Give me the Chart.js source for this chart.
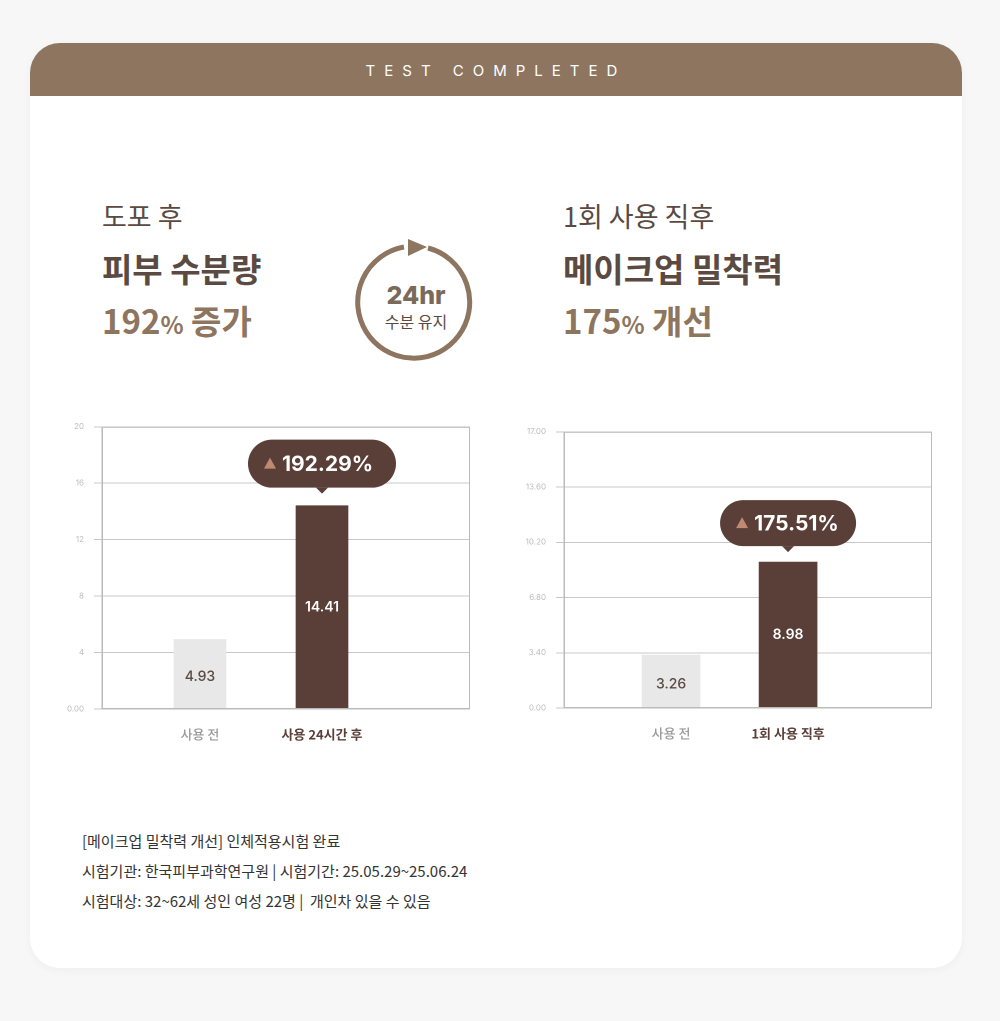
<!DOCTYPE html>
<html><head><meta charset="utf-8">
<script src="https://cdn.jsdelivr.net/npm/chart.js@4"></script>
<style>
body{margin:0;background:#f7f7f7;font-family:Inter,"Noto Sans CJK KR",sans-serif;}
#card{position:absolute;left:30px;top:43px;width:932px;height:925px;background:#fff;border-radius:30px;overflow:hidden;box-shadow:0 2px 10px rgba(0,0,0,0.04);}
#hdr{height:53px;background:#8d7560;color:#fff;text-align:center;line-height:56px;font-size:15px;letter-spacing:9px;}
.t{position:absolute;font-family:"Noto Sans CJK KR";color:#5a4a42;white-space:nowrap;}
canvas{position:absolute;}
</style></head><body>
<div id="card"><div id="hdr">TEST COMPLETED</div></div>
<div class="t" style="left:102px;top:196px;font-size:27px;">도포 후</div>
<div class="t" style="left:102px;top:244px;font-size:33px;font-weight:700;">피부 수분량</div>
<div class="t" style="left:102px;top:296px;font-size:33px;font-weight:700;color:#8d7560;">192<span style="font-size:24px">%</span> 증가</div>
<div class="t" style="left:563px;top:196px;font-size:27px;">1회 사용 직후</div>
<div class="t" style="left:563px;top:244px;font-size:33px;font-weight:700;">메이크업 밀착력</div>
<div class="t" style="left:563px;top:296px;font-size:33px;font-weight:700;color:#8d7560;">175<span style="font-size:24px">%</span> 개선</div>
<svg style="position:absolute;left:350px;top:236px" width="132" height="132" viewBox="0 0 132 132">
<path d="M 78 12 A 56 56 0 1 1 54 11" fill="none" stroke="#8d7560" stroke-width="5"/>
<polygon points="58,3 77,11 58,20" fill="#8d7560"/>
<text x="66" y="68" text-anchor="middle" font-family="Inter" font-weight="800" font-size="25" fill="#7a6a5a">24hr</text>
<text x="66" y="92" text-anchor="middle" font-family="Noto Sans CJK KR" font-size="16" fill="#5a4a42">수분 유지</text>
</svg>
<canvas id="c1" style="left:60px;top:412px;width:410px;height:333px"></canvas>
<canvas id="c2" style="left:522px;top:417px;width:410px;height:327px"></canvas>
<div class="t" style="left:82px;top:826px;font-size:15px;color:#333;line-height:30px;">[메이크업 밀착력 개선] 인체적용시험 완료<br>시험기관: 한국피부과학연구원 | 시험기간: 25.05.29~25.06.24<br>시험대상: 32~62세 성인 여성 22명 |&nbsp; 개인차 있을 수 있음</div>
<script>
const cats1=['사용 전','사용 24시간 후'];
const vals1=[4.93,14.41];
const ticks1=[0,4,8,12,16,20];
const tickLabels1=['0.00','4','8','12','16','20'];
const badge1='192.29%';
const cats2=['사용 전','1회 사용 직후'];
const vals2=[3.26,8.98];
const ticks2=[0,3.4,6.8,10.2,13.6,17];
const tickLabels2=['0.00','3.40','6.80','10.20','13.60','17.00'];
const badge2='175.51%';

function rr(ctx,x,y,w,h,r){ctx.beginPath();ctx.moveTo(x+r,y);ctx.arcTo(x+w,y,x+w,y+h,r);ctx.arcTo(x+w,y+h,x,y+h,r);ctx.arcTo(x,y+h,x,y,r);ctx.arcTo(x,y,x+w,y,r);ctx.closePath();}
function make(id,cats,vals,ticks,tl,badge,xmin,xmax,th,bw,bh,gap){
 const deco={id:'deco',afterDatasetsDraw(ch){
  const ctx=ch.ctx,m=ch.getDatasetMeta(0),a=ch.chartArea;
  ctx.save();ctx.strokeStyle='#bbb';ctx.lineWidth=1;ctx.strokeRect(a.left+0.5,a.top+0.5,a.right-a.left-1,a.bottom-a.top-1);ctx.restore();
  m.data.forEach((b,i)=>{
   ctx.save();ctx.textAlign='center';ctx.textBaseline='middle';
   ctx.font=(i?'600 ':'500 ')+'14px Inter';ctx.fillStyle=i?'#fff':'#5a4a42';
   const y=i?(b.y+b.base)/2:(b.y+b.base)/2+3;
   ctx.fillText(vals[i].toFixed(2),b.x,y);ctx.restore();
  });
  const b=m.data[1];const bottom=b.y-gap;
  ctx.save();ctx.fillStyle='#5a3e38';rr(ctx,b.x-bw/2,bottom-bh,bw,bh,bh/2);ctx.fill();
  ctx.beginPath();ctx.moveTo(b.x-6,bottom);ctx.lineTo(b.x+6,bottom);ctx.lineTo(b.x,bottom+6);ctx.fill();
  ctx.fillStyle='#c08a72';const tx=b.x-bw/2+22,ty=bottom-bh/2;
  ctx.beginPath();ctx.moveTo(tx-6,ty+5);ctx.lineTo(tx+6,ty+5);ctx.lineTo(tx,ty-6);ctx.fill();
  ctx.fillStyle='#fff';ctx.font='700 21px Inter';ctx.textBaseline='middle';ctx.textAlign='left';
  ctx.fillText(badge,tx+12,ty+1);ctx.restore();
 }};
 new Chart(document.getElementById(id),{type:'bar',
  data:{datasets:[{data:vals.map((v,i)=>({x:i+1,y:v})),backgroundColor:['#e8e8e8','#5a3e38'],barThickness:th,grouped:false}]},
  options:{responsive:false,maintainAspectRatio:false,animation:false,devicePixelRatio:2,
   layout:{padding:{top:0,right:0}},
   plugins:{legend:{display:false},tooltip:{enabled:false}},
   scales:{
    x:{type:'linear',offset:false,min:xmin,max:xmax,afterFit:s=>{s.height=36},
     afterBuildTicks:s=>{s.ticks=[{value:1},{value:2}]},
     grid:{display:false},border:{color:'#bbb'},
     ticks:{callback:v=>cats[v-1],color:c=>c.index?'#5a3e38':'#999',font:c=>({family:'Noto Sans CJK KR',size:13,weight:c.index?'700':'500'}),padding:10}},
    y:{min:0,max:ticks[ticks.length-1],afterFit:s=>{s.width=42},
     afterBuildTicks:s=>{s.ticks=ticks.map(v=>({value:v}))},
     grid:{color:'#c8c8c8'},border:{color:'#bbb'},
     ticks:{callback:(v)=>tl[ticks.indexOf(v)],color:'#bbb',font:{size:8,family:'Inter'},padding:10}}}},
  plugins:[deco]});
}
make('c1',cats1,vals1,ticks1,tickLabels1,badge1,0.197,3.213,[52,48],148,48,18);
make('c2',cats2,vals2,ticks2,tickLabels2,badge2,0.085,3.23,[58,54],136,46,16);
</script>
</body></html>
